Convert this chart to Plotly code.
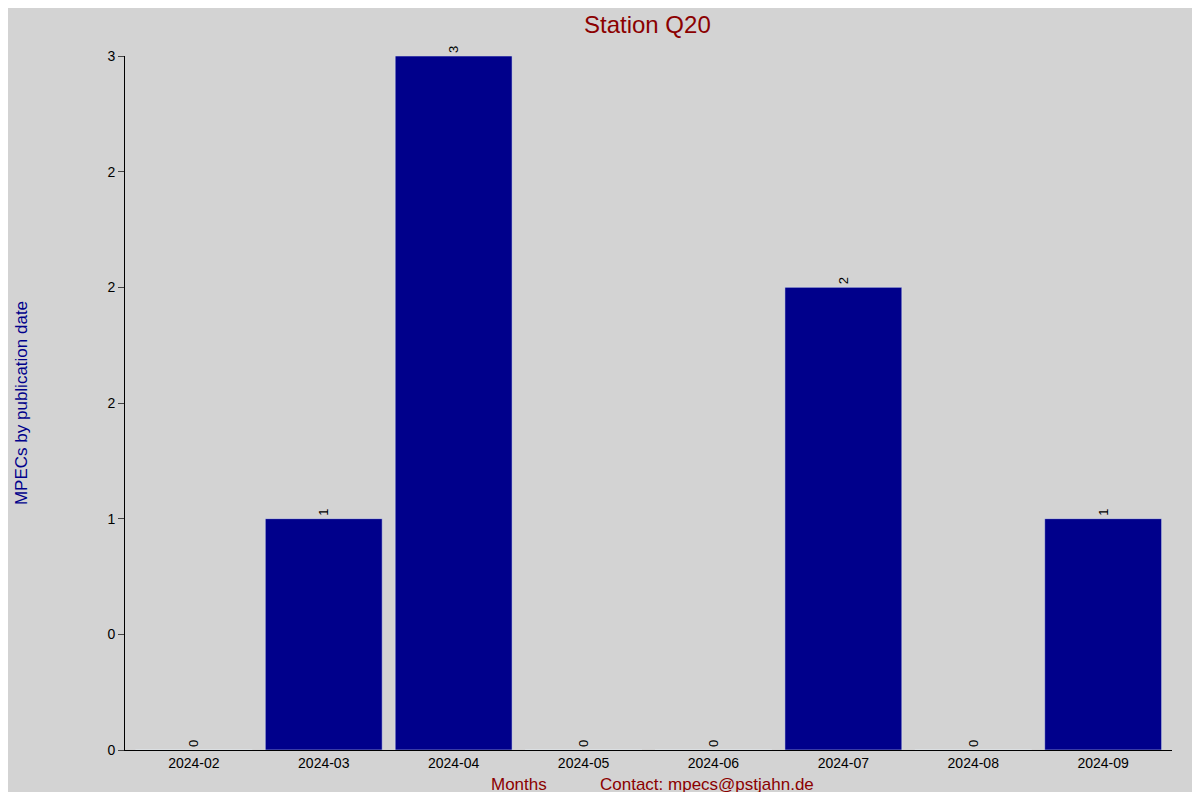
import plotly.graph_objects as go

months = ["2024-02","2024-03","2024-04","2024-05","2024-06","2024-07","2024-08","2024-09"]
counts = [0,1,3,0,0,2,0,1]
ytick_vals = [0,0.5,1,1.5,2,2.5,3]
ytick_text = ["0","0","1","2","2","2","3"]

fig = go.Figure(go.Bar(x=months, y=counts, width=0.9, marker_color="#00008B",
    text=[str(c) for c in counts], textposition="outside", textangle=-90,
    textfont=dict(color="black", size=13), cliponaxis=False))
fig.update_layout(
    width=1184, height=784, paper_bgcolor="#D3D3D3", plot_bgcolor="#D3D3D3",
    margin=dict(l=117, r=20, t=48, b=42),
    font=dict(family="Liberation Sans, Arial", size=14, color="black"),
    title=dict(text="Station Q20", x=0.54, y=0.99, xanchor="center", yanchor="top",
               font=dict(size=24, color="#8B0000")),
    yaxis=dict(range=[0,3], tickvals=ytick_vals, ticktext=ytick_text, showgrid=False,
               showline=True, linecolor="black", ticks="outside", ticklen=6, zeroline=False,
               title=dict(text="MPECs by publication date", font=dict(color="#00008B", size=17), standoff=75)),
    xaxis=dict(type="category", showgrid=False, showline=True, linecolor="black", ticks="",
               range=[-0.53,7.53]),
    bargap=0.1, showlegend=False,
    annotations=[
        dict(text="Months", x=0.3765, xref="paper", y=-0.05, yref="paper", showarrow=False,
             font=dict(color="#8B0000", size=17), yanchor="middle"),
        dict(text="Contact: mpecs@pstjahn.de", x=0.556, xref="paper", y=-0.05, yref="paper",
             showarrow=False, font=dict(color="#8B0000", size=17), yanchor="middle"),
    ])
fig.write_html("out.html")
